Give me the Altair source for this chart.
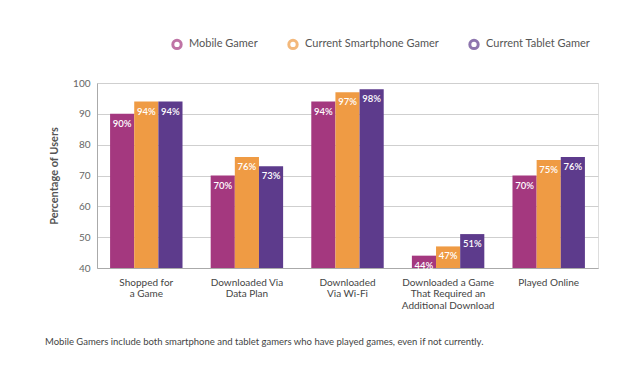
import altair as alt
import pandas as pd

categories = ["Shopped for\na Game", "Downloaded Via\nData Plan", "Downloaded\nVia Wi-Fi",
              "Downloaded a Game\nThat Required an\nAdditional Download", "Played Online"]
series = ["Mobile Gamer", "Current Smartphone Gamer", "Current Tablet Gamer"]
mobile = [90, 70, 94, 44, 70]
smartphone = [94, 76, 97, 47, 75]
tablet = [94, 73, 98, 51, 76]
colors = ["#A4387F", "#EF9B44", "#5D3B8C"]
y_ticks = [40, 50, 60, 70, 80, 90, 100]
footnote = "Mobile Gamers include both smartphone and tablet gamers who have played games, even if not currently."

rows = []
for s, vals in zip(series, [mobile, smartphone, tablet]):
    for c, v in zip(categories, vals):
        rows.append({"category": c, "series": s, "value": v, "label": f"{v}%"})
df = pd.DataFrame(rows)

FONT = "Lato"

x = alt.X("category:N", sort=categories, title=None,
          scale=alt.Scale(paddingInner=0.28, paddingOuter=0.13),
          axis=alt.Axis(labelExpr="split(datum.label, '\\n')", labelAngle=0, ticks=False,
                        labelPadding=9, labelFontSize=10, labelColor="#444", labelFont=FONT,
                        labelLineHeight=11.5, domainColor="#aaa", labelBaseline="top"))
xo = alt.XOffset("series:N", sort=series, scale=alt.Scale(paddingInner=0, paddingOuter=0))
y = alt.Y("value:Q", title="Percentage of Users",
          scale=alt.Scale(domain=[40, 100], zero=False, nice=False),
          axis=alt.Axis(values=y_ticks, tickCount=7, labelOverlap=False, ticks=False,
                        labelPadding=7, labelFontSize=10, labelColor="#666", labelFont=FONT,
                        titleFont=FONT, titleFontSize=11, titleFontWeight="bold",
                        titleColor="#555", titlePadding=13, gridColor="#cfcfcf",
                        domainColor="#aaa"))

fill = alt.Fill("series:N", sort=series, scale=alt.Scale(domain=series, range=colors),
                legend=None)
stroke = alt.Stroke("series:N", sort=series, scale=alt.Scale(domain=series, range=colors),
                    legend=alt.Legend(title=None, orient="none", legendX=74, legendY=-45,
                                      direction="horizontal", symbolType="circle",
                                      symbolSize=70, symbolStrokeWidth=3,
                                      symbolFillColor="white",
                                      labelFont=FONT, labelFontSize=11, labelColor="#555",
                                      columnPadding=24, labelOffset=6, labelLimit=300))

base = alt.Chart(df).encode(x=x, xOffset=xo)

bars = base.mark_bar(strokeWidth=0).encode(y=y, y2=alt.datum(40), fill=fill)

legend_layer = base.mark_point(filled=False, strokeWidth=3).encode(
    y=alt.Y("value:Q"), stroke=stroke).transform_filter("datum.value < 0")

labels = base.mark_text(color="white", fontSize=9.5, fontWeight=600, font=FONT,
                        baseline="top", dy=5).encode(
    y=alt.Y("value:Q"), text="label:N")

chart = alt.layer(bars, legend_layer, labels).resolve_scale(fill="independent", stroke="independent").properties(
    width=501, height=185,
    autosize=alt.AutoSizeParams(type="none"),
    padding={"left": 89, "top": 75, "right": 27, "bottom": 90},
    title=alt.TitleParams(footnote, orient="bottom", anchor="start", frame="group", dx=-52,
                          offset=27, fontSize=9.5, font=FONT, color="#444", fontWeight="normal"),
).configure_view(stroke=None).configure(background="white")

chart.save("out.html", embed_options={"renderer": "svg", "actions": False})
